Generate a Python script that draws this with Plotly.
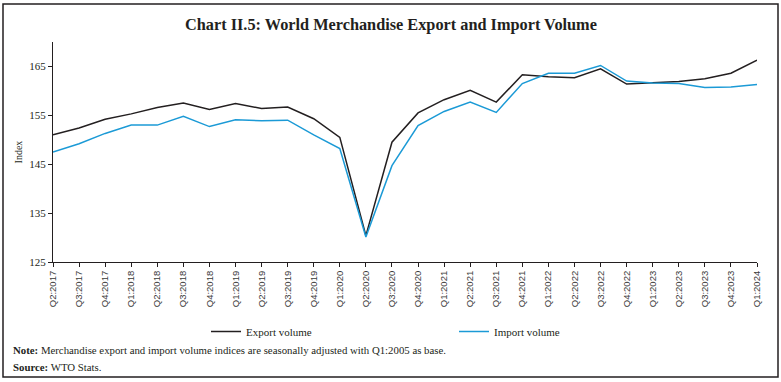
import plotly.graph_objects as go

quarters = ["Q2:2017", "Q3:2017", "Q4:2017", "Q1:2018", "Q2:2018", "Q3:2018", "Q4:2018",
            "Q1:2019", "Q2:2019", "Q3:2019", "Q4:2019", "Q1:2020", "Q2:2020", "Q3:2020",
            "Q4:2020", "Q1:2021", "Q2:2021", "Q3:2021", "Q4:2021", "Q1:2022", "Q2:2022",
            "Q3:2022", "Q4:2022", "Q1:2023", "Q2:2023", "Q3:2023", "Q4:2023", "Q1:2024"]

export_volume = [151.0, 152.4, 154.2, 155.3, 156.6, 157.5, 156.2,
                 157.4, 156.4, 156.7, 154.3, 150.5, 130.4, 149.5,
                 155.5, 158.2, 160.1, 157.7, 163.3, 162.9, 162.7,
                 164.5, 161.4, 161.6, 161.9, 162.5, 163.6, 166.3]

import_volume = [147.5, 149.2, 151.3, 153.0, 153.0, 154.8, 152.7,
                 154.1, 153.9, 154.0, 151.0, 148.2, 130.1, 144.7,
                 152.9, 155.8, 157.7, 155.6, 161.5, 163.6, 163.6,
                 165.2, 162.0, 161.6, 161.5, 160.7, 160.8, 161.3]

y_ticks = [125, 135, 145, 155, 165]

x_idx = list(range(len(quarters)))

SERIF = "Liberation Serif"
SANS = "Liberation Sans"

fig = go.Figure()
fig.add_trace(go.Scatter(x=x_idx, y=export_volume, mode="lines", name="Export volume",
                         line=dict(color="#231f20", width=1.5)))
fig.add_trace(go.Scatter(x=x_idx, y=import_volume, mode="lines", name="Import volume",
                         line=dict(color="#1b9ad6", width=1.5)))

L, R, T, B = 53, 24, 42, 120
W, H = 781, 382
pw, ph = W - L - R, H - T - B

def px(x):
    return (x - L) / pw

def py(y):
    return (H - B - y) / ph

fig.update_layout(
    width=W, height=H,
    margin=dict(l=L, r=R, t=T, b=B, autoexpand=False),
    paper_bgcolor="white", plot_bgcolor="white",
    showlegend=True,
    legend=dict(orientation="h", x=px(206), y=py(317), xanchor="left", yanchor="top",
                font=dict(family=SERIF, size=11, color="#231f20"),
                entrywidth=203, entrywidthmode="pixels",
                bgcolor="rgba(0,0,0,0)", itemwidth=30),
    xaxis=dict(range=[0, len(quarters) - 1], tickvals=x_idx, ticktext=quarters,
               tickangle=-90, showgrid=False, zeroline=False, automargin=False,
               showline=True, linecolor="#231f20", linewidth=1,
               ticks="outside", ticklen=4, tickcolor="#231f20",
               tickfont=dict(family=SANS, size=9.5, color="#3a3a3a")),
    yaxis=dict(range=[125, 170], tickvals=y_ticks, showgrid=False, zeroline=False,
               automargin=False,
               showline=True, linecolor="#231f20", linewidth=1,
               ticks="outside", ticklen=4, tickcolor="#231f20",
               tickfont=dict(family=SERIF, size=11, color="#231f20"),
               title=dict(text="Index", font=dict(family=SERIF, size=10, color="#231f20"),
                          standoff=4)),
    font=dict(family=SERIF, color="#231f20"),
)

fig.add_annotation(text="<b>Chart II.5: World Merchandise Export and Import Volume</b>",
                   xref="paper", yref="paper", x=px(391), y=py(24), xanchor="center",
                   yanchor="middle", showarrow=False,
                   font=dict(family=SERIF, size=16.3, color="#231f20"))
fig.add_annotation(text="<b>Note:</b> Merchandise export and import volume indices are seasonally adjusted with Q1:2005 as base.",
                   xref="paper", yref="paper", x=px(11), y=py(350), xanchor="left",
                   yanchor="middle", showarrow=False,
                   font=dict(family=SERIF, size=10.8, color="#231f20"))
fig.add_annotation(text="<b>Source:</b> WTO Stats.",
                   xref="paper", yref="paper", x=px(11), y=py(367), xanchor="left",
                   yanchor="middle", showarrow=False,
                   font=dict(family=SERIF, size=10.8, color="#231f20"))

fig.add_shape(type="rect", xref="paper", yref="paper",
              x0=px(3), x1=px(778), y0=py(377), y1=py(4),
              line=dict(color="#231f20", width=1.5), fillcolor="rgba(0,0,0,0)")

fig.write_html("out.html", config={"displayModeBar": False},
               post_script="document.body.style.margin='0';document.body.style.overflow='hidden';")
